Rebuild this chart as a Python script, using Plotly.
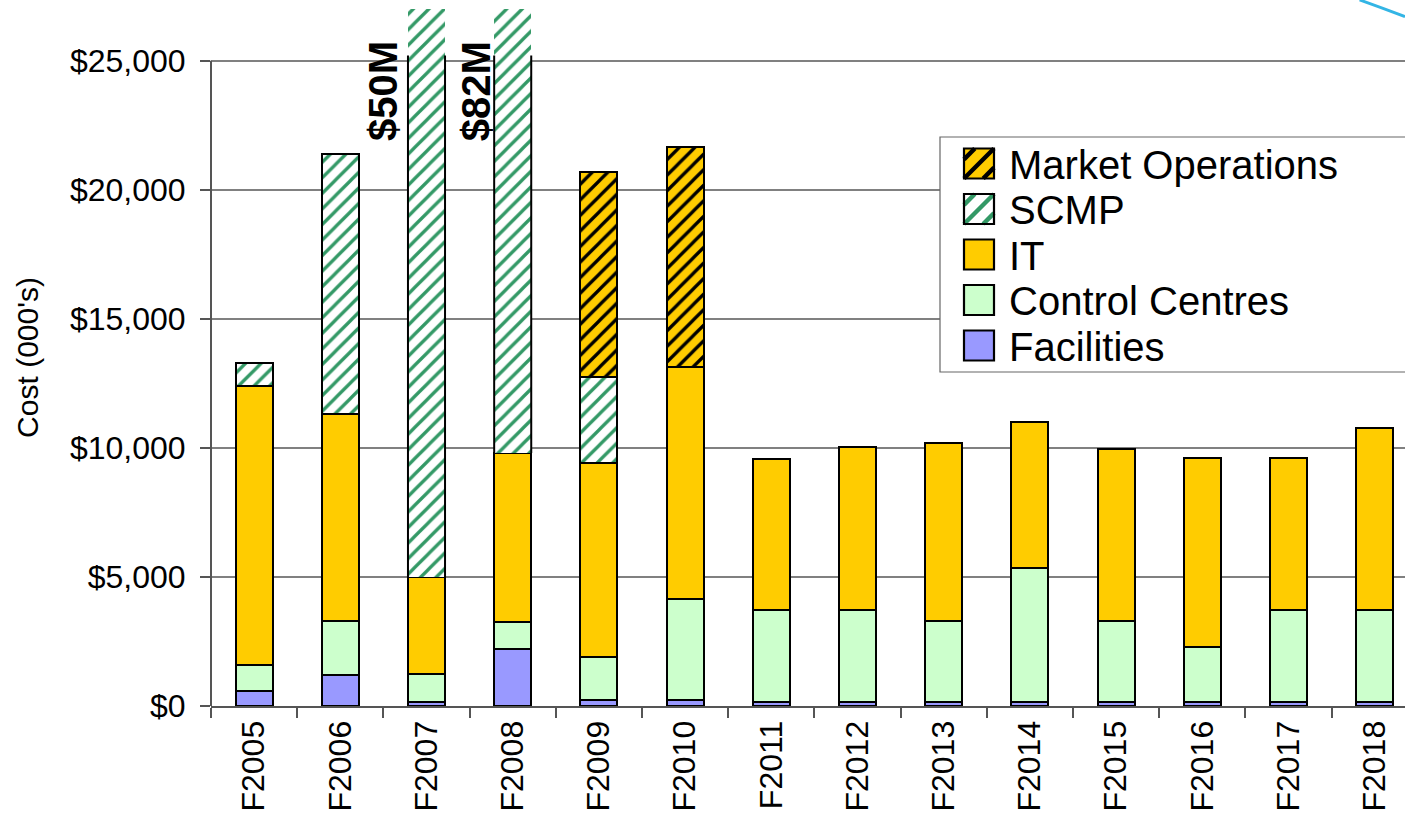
import plotly.graph_objects as go

years = ["F2005", "F2006", "F2007", "F2008", "F2009", "F2010", "F2011",
         "F2012", "F2013", "F2014", "F2015", "F2016", "F2017", "F2018"]
facilities = [600, 1200, 150, 2200, 250, 250, 150, 150, 150, 150, 150, 150, 150, 150]
control_centres = [1000, 2100, 1100, 1050, 1650, 3900, 3550, 3550, 3150, 5200, 3150, 2150, 3550, 3550]
it = [10800, 8000, 3750, 6550, 7500, 9000, 5850, 6350, 6900, 5650, 6650, 7300, 5900, 7050]
scmp = [900, 10100, 45000, 72200, 3350, 0, 0, 0, 0, 0, 0, 0, 0, 0]
market_ops = [0, 0, 0, 0, 7950, 8500, 0, 0, 0, 0, 0, 0, 0, 0]
y_ticks = [0, 5000, 10000, 15000, 20000, 25000]
y_tick_text = ["$0", "$5,000", "$10,000", "$15,000", "$20,000", "$25,000"]

# styles: (name, values, fill colour, stripe colour or None)
series = [
    ("Facilities", facilities, "#9999FF", None),
    ("Control Centres", control_centres, "#CCFFCC", None),
    ("IT", it, "#FFCC00", None),
    ("SCMP", scmp, "white", "#339966"),
    ("Market Operations", market_ops, "#FFCC00", "black"),
]

W, H = 1405, 817
M_L, M_R, M_T, M_B = 211, 0, 9, 111
Y_MAX = 27000
AXIS_TOP = 25000
BAR_W = 0.43
FONT = "Arial, Liberation Sans, sans-serif"

PW = W - M_L - M_R
PH = H - M_T - M_B


def px_x(p):
    return (p - M_L) / PW


def px_y(p):
    return (H - M_B - p) / PH


totals = [sum(v) for v in zip(facilities, control_centres, it, scmp, market_ops)]
clipped = [t > Y_MAX for t in totals]

fig = go.Figure()
for name, vals, fill, stripe in series:
    if stripe is None:
        marker = dict(color=fill, line=dict(color="black", width=2))
    else:
        widths = [0 if (c and name == "SCMP") else 2 for c in clipped]
        marker = dict(color=fill, line=dict(color="black", width=widths),
                      pattern=dict(shape="/", fgcolor=stripe, bgcolor=fill,
                                   size=11, solidity=0.3, fillmode="replace"))
    fig.add_bar(name=name, x=years, y=vals, width=BAR_W, marker=marker)

# side outlines for clipped bars (stop just above top tick) and total labels
label_shift = {2: -44, 3: -37}
for i, c in enumerate(clipped):
    if not c:
        continue
    base = facilities[i] + control_centres[i] + it[i]
    for side in (-1, 1):
        xx = i + side * BAR_W / 2
        fig.add_shape(type="line", xref="x", yref="y", x0=xx, x1=xx, y0=base, y1=AXIS_TOP + 200,
                      line=dict(color="black", width=2))
    fig.add_annotation(x=years[i], y=23800, text=f"<b>${totals[i] / 1000:.0f}M</b>",
                       textangle=-90, showarrow=False, xshift=label_shift.get(i, -40),
                       font=dict(family=FONT, size=40, color="black"))

# y-axis line stops at top tick
fig.add_shape(type="line", xref="paper", yref="y", x0=0, x1=0, y0=0, y1=AXIS_TOP,
              line=dict(color="#555555", width=2))

# legend box (drawn manually to match the original compact layout)
fig.add_shape(type="rect", xref="paper", yref="paper",
              x0=px_x(940), x1=px_x(1412), y0=px_y(372), y1=px_y(137),
              fillcolor="white", line=dict(color="#666666", width=1.2))
SW = 30
centers = [345.5, 300.0, 254.5, 209.0, 163.5]  # Facilities ... Market Operations
for (name, vals, fill, stripe), cy in zip(series, centers):
    left, top = 964, cy - SW / 2
    right, bottom = left + SW, top + SW
    fig.add_shape(type="rect", xref="paper", yref="paper",
                  x0=px_x(left), x1=px_x(right), y0=px_y(bottom), y1=px_y(top),
                  fillcolor=fill, line=dict(width=0))
    if stripe is not None:
        for frac in (-0.64, 0.0, 0.64):
            k = frac * SW
            # "/" stripe: dy_up = dx + k, clipped to the square
            if k >= 0:
                p0, p1 = (0, k), (SW - k, SW)
            else:
                p0, p1 = (-k, 0), (SW, SW + k)
            fig.add_shape(type="line", xref="paper", yref="paper",
                          x0=px_x(left + p0[0]), y0=px_y(bottom - p0[1]),
                          x1=px_x(left + p1[0]), y1=px_y(bottom - p1[1]),
                          line=dict(color=stripe, width=4.5))
    fig.add_shape(type="rect", xref="paper", yref="paper",
                  x0=px_x(left), x1=px_x(right), y0=px_y(bottom), y1=px_y(top),
                  fillcolor="rgba(0,0,0,0)", line=dict(color="black", width=2.2))
    fig.add_annotation(xref="paper", yref="paper", x=px_x(1008), y=px_y(cy + 1),
                       xanchor="left", yanchor="middle", showarrow=False, text=name,
                       borderpad=0,
                       font=dict(family=FONT, size=40, color="black"))

# decorative slide curve in the top-right corner
fig.add_shape(type="path", xref="paper", yref="paper",
              path="M 0.962 1.013 Q 0.98 1.002 1.0 0.989",
              line=dict(color="#33B5E5", width=3))

fig.update_layout(
    width=W, height=H,
    margin=dict(l=M_L, r=M_R, t=M_T, b=M_B),
    barmode="stack",
    plot_bgcolor="white", paper_bgcolor="white",
    font=dict(family=FONT, color="black"),
    showlegend=False,
    xaxis=dict(range=[-0.5, -0.5 + PW / 86.2], showline=True, linecolor="#555555", linewidth=2,
               ticks="outside", tickson="boundaries", ticklen=10, tickcolor="#555555",
               tickwidth=1.5, tickangle=-90, tickfont=dict(family=FONT, size=32),
               showgrid=False),
    yaxis=dict(range=[0, Y_MAX], tickvals=y_ticks, ticktext=y_tick_text,
               showline=False, ticks="outside", ticklen=10, tickcolor="#555555",
               tickwidth=1.5, tickfont=dict(family=FONT, size=32), ticklabelstandoff=8,
               showgrid=True, gridcolor="#808080", gridwidth=1.5, zeroline=False,
               title=dict(text="Cost (000's)", font=dict(family=FONT, size=30), standoff=22)),
)

fig.write_html("out.html")
